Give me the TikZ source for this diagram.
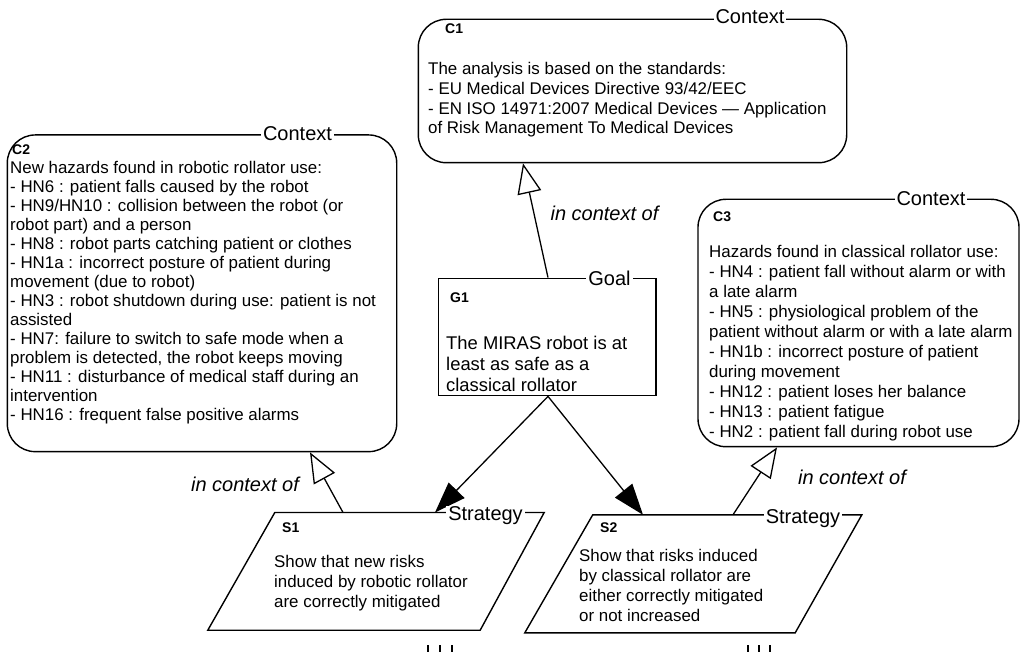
\documentclass[tikz,border=0pt]{standalone}
\usepackage{fontspec}
\setmainfont{Liberation Sans}
\usetikzlibrary{arrows.meta}
\begin{document}
\begin{tikzpicture}[x=1pt,y=-1pt,
  ctxbox/.style={draw, line width=1.4pt, rounded corners=28pt, inner sep=0pt},
  goalbox/.style={draw, line width=1.4pt, inner sep=0pt},
  stratarea/.style={draw=none, inner sep=0pt},
  stratline/.style={line width=1.4pt, line join=miter},
  hdr/.style={fill=white, inner xsep=2pt, inner ysep=0pt, font=\fontsize{20}{22}\selectfont, anchor=base},
  idlbl/.style={font=\bfseries\fontsize{14}{16}\selectfont, inner sep=0pt, anchor=north west},
  body/.style={font=\fontsize{16.9}{19.6}\selectfont, inner sep=0pt, anchor=north west, align=left},
  rel/.style={font=\itshape\fontsize{20}{22}\selectfont, inner sep=0pt},
  support/.style={line width=1.3pt, -{Triangle[length=31pt,width=22pt]}},
  incontext/.style={line width=1.3pt, -{Triangle[open,length=30pt,width=24pt]}},
  dotmark/.style={line width=2pt}
]
\useasboundingbox (0,0) rectangle (1021,652);

% boxes
\node[ctxbox, minimum width=428.4pt, minimum height=143.4pt] (C1) at (632.5,91) {};
\node[ctxbox, minimum width=389.4pt, minimum height=316.7pt] (C2) at (202,293.3) {};
\node[ctxbox, minimum width=321pt, minimum height=247.4pt] (C3) at (858.5,323) {};
\node[goalbox, minimum width=217.7pt, minimum height=117.4pt] (G1) at (547.2,337) {};
\node[stratarea, minimum width=336pt, minimum height=117.3pt] (S1) at (376,571.35) {};
\node[stratarea, minimum width=336.7pt, minimum height=117.7pt] (S2) at (693.3,573.85) {};
\draw[stratline] (S1.south west) -- ([xshift=67pt]S1.north west) -- (S1.north east) -- ([xshift=-64pt]S1.south east) -- cycle;
\draw[stratline] (S2.south west) -- ([xshift=68pt]S2.north west) -- (S2.north east) -- ([xshift=-66.7pt]S2.south east) -- cycle;

% connectors
\draw[support] ([xshift=0.8pt]G1.south) -- ([xshift=59pt]S1.north);
\draw[support] ([xshift=0.8pt]G1.south) -- ([xshift=-50.3pt]S2.north);
\draw[incontext] ([xshift=0.8pt]G1.north) -- ([xshift=-109.5pt]C1.south);
\draw[incontext] ([xshift=-33pt]S1.north) -- ([xshift=108pt]C2.south);
\draw[incontext] ([xshift=39.7pt]S2.north) -- ([xshift=-81.5pt]C3.south);

% header labels
\node[hdr] (C1h) at (750,23.5) {Context};
\node[hdr] (C2h) at (297.5,141) {Context};
\node[hdr] (C3h) at (931,206) {Context};
\node[hdr] (G1h) at (609.5,285.7) {Goal};
\node[hdr] (S1h) at (485.5,520) {Strategy};
\node[hdr] (S2h) at (803,523) {Strategy};

% id labels
\node[idlbl] (C1id) at (445,24) {C1};
\node[idlbl] (C2id) at (12,145) {C2};
\node[idlbl] (C3id) at (713,212) {C3};
\node[idlbl] (G1id) at (450,293) {G1};
\node[idlbl] (S1id) at (282,522.5) {S1};
\node[idlbl] (S2id) at (600,522.5) {S2};

% body texts
\node[body] (C1t) at (428,62.5) {The analysis is based on the standards:\\
- EU Medical Devices Directive 93/42/EEC\\
- EN ISO 14971:2007 Medical Devices — Application\\
of Risk Management To Medical Devices};
\node[body, font=\fontsize{16.9}{19}\selectfont] (C2t) at (10,161.5) {New hazards found in robotic rollator use:\\
- HN6 : patient falls caused by the robot\\
- HN9/HN10 : collision between the robot (or\\
robot part) and a person\\
- HN8 : robot parts catching patient or clothes\\
- HN1a : incorrect posture of patient during\\
movement (due to robot)\\
- HN3 : robot shutdown during use: patient is not\\
assisted\\
- HN7: failure to switch to safe mode when a\\
problem is detected, the robot keeps moving\\
- HN11 : disturbance of medical staff during an\\
intervention\\
- HN16 : frequent false positive alarms};
\node[body, font=\fontsize{16.9}{20}\selectfont] (C3t) at (709,245.5) {Hazards found in classical rollator use:\\
- HN4 : patient fall without alarm or with\\
a late alarm\\
- HN5 : physiological problem of the\\
patient without alarm or with a late alarm\\
- HN1b : incorrect posture of patient\\
during movement\\
- HN12 : patient loses her balance\\
- HN13 : patient fatigue\\
- HN2 : patient fall during robot use};
\node[body, font=\fontsize{18.4}{21}\selectfont] (G1t) at (446,335.5) {The MIRAS robot is at\\
least as safe as a\\
classical rollator};
\node[body, font=\fontsize{16.9}{20}\selectfont] (S1t) at (274,555.5) {Show that new risks\\
induced by robotic rollator\\
are correctly mitigated};
\node[body, font=\fontsize{16.9}{20}\selectfont] (S2t) at (579,549.5) {Show that risks induced\\
by classical rollator are\\
either correctly mitigated\\
or not increased};

% relation labels
\node[rel] (r1) at (604.5,213) {in context of};
\node[rel] (r2) at (245,484) {in context of};
\node[rel] (r3) at (852,477) {in context of};

% continuation marks
\draw[dotmark] (428,645) -- (428,654) (440,645) -- (440,654) (452,645) -- (452,654);
\draw[dotmark] (748,645) -- (748,654) (759,645) -- (759,654) (770,645) -- (770,654);
\end{tikzpicture}
\end{document}
